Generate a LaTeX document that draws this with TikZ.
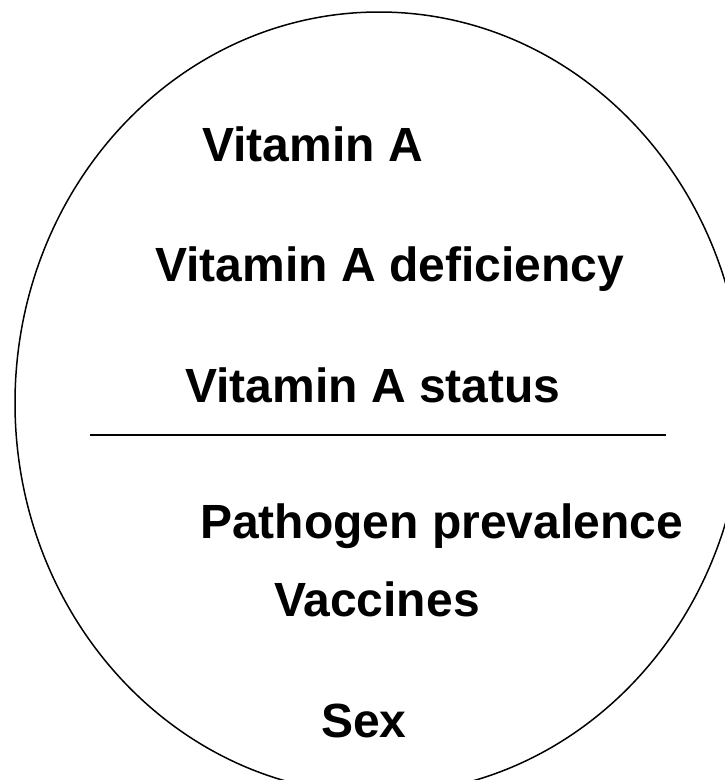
\documentclass[tikz,border=0pt]{standalone}
\usepackage{fontspec}
\setmainfont{Liberation Sans}
\begin{document}
\begin{tikzpicture}[x=1pt,y=-1pt,
  lbl/.style={anchor=base west,inner sep=0pt,font=\fontsize{48}{56}\selectfont\bfseries}]
\useasboundingbox (0,0) rectangle (725,780);
\begin{scope}
\clip (0,0) rectangle (725,780);
\draw[line width=1.5pt] (379,403) ellipse [x radius=364, y radius=391];
\end{scope}
\draw[line width=1.3pt] (90,435) -- (666,435);
\node[lbl] (va) at (202,161) {Vitamin A};
\node[lbl] (vad) at (155,281) {Vitamin A deficiency};
\node[lbl] (vas) at (185,402) {Vitamin A status};
\node[lbl] (pp) at (200,538) {Pathogen prevalence};
\node[lbl] (vac) at (274,616) {Vaccines};
\node[lbl] (sex) at (321,737) {Sex};
\end{tikzpicture}
\end{document}
